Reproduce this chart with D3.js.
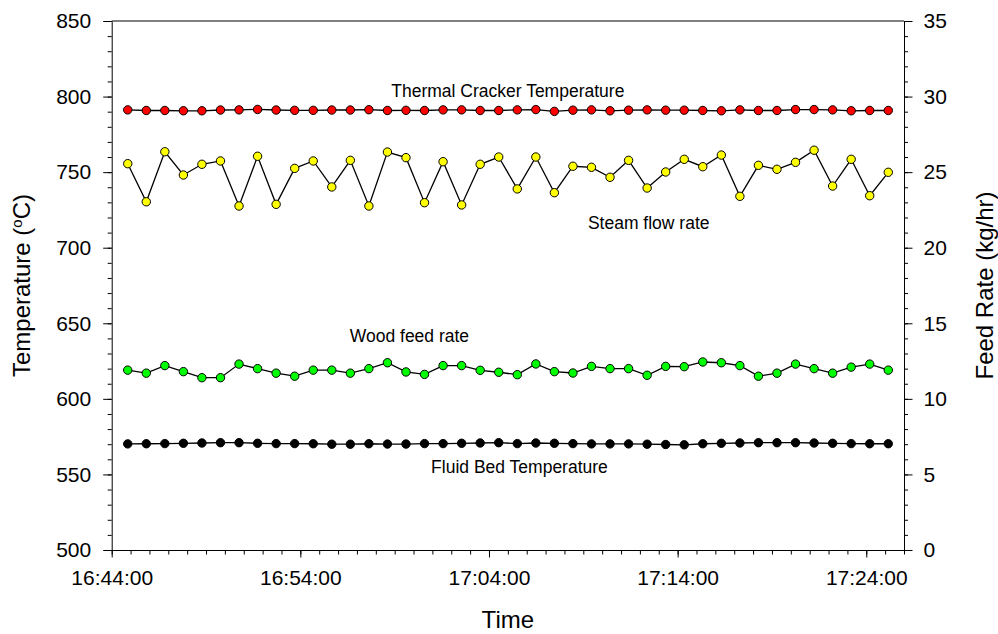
<!DOCTYPE html>
<html>
<head>
<meta charset="utf-8">
<script src="https://cdn.jsdelivr.net/npm/d3@7"></script>
<style>
  body { margin: 0; background: #fff; }
  svg text { font-family: "Liberation Sans", Arial, sans-serif; }
</style>
</head>
<body>
<div id="container"></div>
<script>
/* CONSTANTS AND GLOBALS */
const width = 998,
  height = 634,
  margin = { top: 21, bottom: 84, left: 111.7, right: 94 };
const innerW = width - margin.left - margin.right,
  innerH = height - margin.top - margin.bottom;

const parseTime = d3.timeParse("%H:%M:%S");

// sample times (one reading roughly every minute)
const times = [
  "16:44:51", "16:45:50", "16:46:49", "16:47:48", "16:48:47", "16:49:46",
  "16:50:45", "16:51:44", "16:52:43", "16:53:42", "16:54:41", "16:55:40",
  "16:56:39", "16:57:38", "16:58:37", "16:59:36", "17:00:35", "17:01:34",
  "17:02:33", "17:03:32", "17:04:31", "17:05:30", "17:06:29", "17:07:28",
  "17:08:27", "17:09:26", "17:10:25", "17:11:24", "17:12:23", "17:13:22",
  "17:14:21", "17:15:20", "17:16:19", "17:17:18", "17:18:17", "17:19:16",
  "17:20:15", "17:21:14", "17:22:13", "17:23:12", "17:24:11", "17:25:10"
];

// left axis (deg C)
const thermalCracker = [
  791.2, 790.8, 790.8, 790.6, 790.6, 791.1, 791.2, 791.5, 791.1, 790.9, 790.9, 791.1,
  791.1, 791.3, 790.8, 790.9, 790.8, 791.2, 791.2, 790.8, 790.8, 791.2, 791.4, 790.2,
  791.0, 791.2, 790.6, 791.0, 791.2, 791.0, 791.0, 790.8, 790.6, 791.2, 790.8, 790.8,
  791.4, 791.4, 791.2, 790.6, 790.8, 790.8
];
const fluidBed = [
  570.2, 570.3, 570.4, 570.6, 570.8, 571.0, 571.0, 570.6, 570.4, 570.4, 570.3, 570.0,
  570.0, 570.3, 570.1, 570.1, 570.4, 570.4, 570.6, 570.8, 571.0, 570.4, 570.8, 570.6,
  570.4, 570.2, 570.2, 570.2, 570.0, 569.8, 569.6, 570.3, 570.6, 570.8, 571.0, 571.0,
  571.0, 570.8, 570.6, 570.4, 570.3, 570.3
];

// right axis (kg/hr)
const steamFlow = [
  25.56, 23.04, 26.35, 24.81, 25.52, 25.74, 22.76, 26.05, 22.87, 25.25, 25.74, 24.02,
  25.78, 22.76, 26.33, 25.96, 22.98, 25.69, 22.83, 25.52, 26.00, 23.89, 26.00, 23.64,
  25.39, 25.32, 24.66, 25.78, 23.95, 25.01, 25.85, 25.36, 26.13, 23.40, 25.45, 25.19,
  25.65, 26.45, 24.08, 25.85, 23.44, 24.99
];
const woodFeed = [
  11.9, 11.7, 12.2, 11.8, 11.4, 11.4, 12.3, 12.0, 11.7, 11.5, 11.9, 11.9,
  11.7, 12.0, 12.39, 11.78, 11.62, 12.2, 12.2, 11.89, 11.76, 11.6, 12.31, 11.8,
  11.71, 12.15, 12.0, 12.0, 11.56, 12.15, 12.13, 12.44, 12.39, 12.2, 11.5, 11.7,
  12.3, 12.0, 11.7, 12.1, 12.3, 11.9
];

const xTickLabels = ["16:44:00", "16:54:00", "17:04:00", "17:14:00", "17:24:00"];
const xDomain = ["16:44:00", "17:26:00"];
const leftTicks = [500, 550, 600, 650, 700, 750, 800, 850];
const rightTicks = [0, 5, 10, 15, 20, 25, 30, 35];

// series labels: [text, time, left-axis value]
const seriesLabels = [
  ["Thermal Cracker Temperature", "17:05:00", 800],
  ["Steam flow rate", "17:12:28", 712.4],
  ["Wood feed rate", "16:59:47", 637.8],
  ["Fluid Bed Temperature", "17:05:37", 550.7]
];

/* SCALES */
const xScale = d3.scaleTime()
  .domain(xDomain.map(parseTime))
  .range([0, innerW]);
const yLeft = d3.scaleLinear().domain([500, 850]).range([innerH, 0]);
const yRight = d3.scaleLinear().domain([0, 35]).range([innerH, 0]);

const svg = d3.select("#container")
  .append("svg")
  .attr("width", width)
  .attr("height", height)
  .style("background-color", "white");

const g = svg.append("g")
  .attr("transform", `translate(${margin.left},${margin.top})`);

/* AXES */
// minor ticks first
g.append("g")
  .attr("transform", `translate(0,${innerH})`)
  .call(d3.axisBottom(xScale)
    .tickValues(d3.timeMinute.range(xScale.domain()[0], d3.timeMinute.offset(xScale.domain()[1], 1)))
    .tickSize(4.5).tickSizeOuter(0).tickFormat(""))
  .call(a => a.select(".domain").remove());
g.append("g")
  .call(d3.axisLeft(yLeft).tickValues(d3.range(500, 851, 10)).tickSize(4).tickFormat(""))
  .call(a => a.select(".domain").remove());
g.append("g")
  .attr("transform", `translate(${innerW},0)`)
  .call(d3.axisRight(yRight).tickValues(d3.range(0, 36, 1)).tickSize(4).tickFormat(""))
  .call(a => a.select(".domain").remove());

// major ticks
const xAxis = g.append("g")
  .attr("transform", `translate(0,${innerH})`)
  .call(d3.axisBottom(xScale)
    .tickValues(xTickLabels.map(parseTime))
    .tickFormat(d3.timeFormat("%H:%M:%S"))
    .tickSize(7.5).tickSizeOuter(0).tickPadding(13));
const leftAxis = g.append("g")
  .call(d3.axisLeft(yLeft).tickValues(leftTicks).tickSize(8.5).tickSizeOuter(0).tickPadding(12));
const rightAxis = g.append("g")
  .attr("transform", `translate(${innerW},0)`)
  .call(d3.axisRight(yRight).tickValues(rightTicks).tickSize(8.5).tickSizeOuter(0).tickPadding(11));

[xAxis, leftAxis, rightAxis].forEach(a => {
  a.selectAll("text").style("font-size", "21px").attr("fill", "#000");
  a.selectAll("line, path").attr("stroke", "#000");
});

// top frame line
g.append("line")
  .attr("x1", 0).attr("x2", innerW)
  .attr("y1", 0).attr("y2", 0)
  .attr("stroke", "#000");

/* SERIES */
const series = [
  { values: thermalCracker, y: yLeft, fill: "#ff0000" },
  { values: steamFlow, y: yRight, fill: "#ffff00" },
  { values: woodFeed, y: yRight, fill: "#00ff00" },
  { values: fluidBed, y: yLeft, fill: "#000000" }
];

series.forEach(s => {
  const pts = times.map((t, i) => ({ t: parseTime(t), v: s.values[i] }));
  const line = d3.line().x(d => xScale(d.t)).y(d => s.y(d.v));
  g.append("path")
    .datum(pts)
    .attr("d", line)
    .attr("fill", "none")
    .attr("stroke", "#000")
    .attr("stroke-width", 1.3);
  g.selectAll(null)
    .data(pts)
    .join("circle")
    .attr("cx", d => xScale(d.t))
    .attr("cy", d => s.y(d.v))
    .attr("r", 4.2)
    .attr("fill", s.fill)
    .attr("stroke", "#000")
    .attr("stroke-width", 1);
});

/* LABELS */
g.selectAll("text.series-label")
  .data(seriesLabels)
  .join("text")
  .attr("class", "series-label")
  .attr("x", d => xScale(parseTime(d[1])))
  .attr("y", d => yLeft(d[2]))
  .attr("text-anchor", "middle")
  .style("font-size", "17.5px")
  .attr("fill", "#000")
  .text(d => d[0]);

// axis titles
svg.append("text")
  .attr("x", margin.left + innerW / 2)
  .attr("y", 628)
  .attr("text-anchor", "middle")
  .style("font-size", "24px")
  .text("Time");

const leftTitle = svg.append("text")
  .attr("transform", `translate(30,${margin.top + innerH / 2}) rotate(-90)`)
  .attr("text-anchor", "middle")
  .style("font-size", "24px");
leftTitle.append("tspan").text("Temperature (");
leftTitle.append("tspan").attr("baseline-shift", "super").style("font-size", "15px").text("o");
leftTitle.append("tspan").text("C)");

svg.append("text")
  .attr("transform", `translate(993,${margin.top + innerH / 2}) rotate(-90)`)
  .attr("text-anchor", "middle")
  .style("font-size", "24px")
  .text("Feed Rate (kg/hr)");
</script>
</body>
</html>
